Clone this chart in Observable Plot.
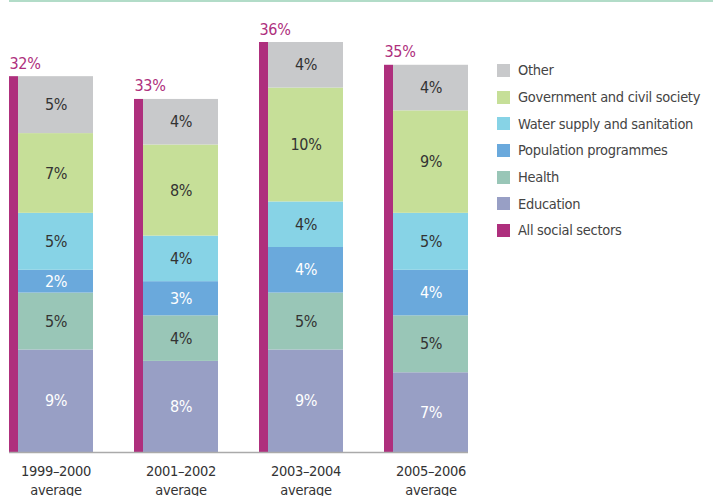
<!DOCTYPE html>
<html><head><meta charset="utf-8">
<script src="https://cdn.jsdelivr.net/npm/d3@7"></script>
<script src="https://cdn.jsdelivr.net/npm/@observablehq/plot@0.6"></script>
<style>
body{margin:0;background:#fff;}
#wrap{position:relative;width:713px;height:496px;overflow:hidden;font-family:"Liberation Sans Narrow","DejaVu Sans Condensed",sans-serif;}
#chart{position:absolute;left:0;top:0;}
#topline{position:absolute;left:9px;right:0;top:0;height:2px;background:#b2dcc8;}
#legend{position:absolute;left:497px;top:57px;}
.item{display:flex;align-items:center;height:26.7px;font-size:14.5px;letter-spacing:-0.3px;color:#444;white-space:nowrap;}
.sw{width:13px;height:13px;margin-right:8px;flex:none;}
</style></head>
<body>
<div id="wrap"><div id="chart"></div><div id="topline"></div><div id="legend"></div></div>
<script>
const periods = ["1999–2000","2001–2002","2003–2004","2005–2006"];
const sectors = ["Education","Health","Population programmes","Water supply and sanitation","Government and civil society","Other"];
const education = [9,8,9,7];
const health = [5,4,5,5];
const population = [2,3,4,4];
const water = [5,4,4,5];
const government = [7,8,10,9];
const other = [5,4,4,4];
const allSocial = [32,33,36,35];
const legendOrder = ["Other","Government and civil society","Water supply and sanitation","Population programmes","Health","Education","All social sectors"];
const colors = {
  "Education":"#989fc5",
  "Health":"#99c6b7",
  "Population programmes":"#6aa9dc",
  "Water supply and sanitation":"#87d3e6",
  "Government and civil society":"#c6df98",
  "Other":"#c8c9cb",
  "All social sectors":"#ae2f7d"
};
const whiteText = new Set(["Education","Population programmes"]);

const series = [education, health, population, water, government, other];
const rows = [];
periods.forEach((p,i)=>series.forEach((s,j)=>rows.push({period:p, sector:sectors[j], value:s[i]})));
const totals = periods.map((p,i)=>({period:p, all:allSocial[i], sum:d3.sum(series, s=>s[i])}));

const font = '"Liberation Sans Narrow","DejaVu Sans Condensed",sans-serif';
const chart = Plot.plot({
  width:713, height:496,
  marginLeft:9, marginRight:245, marginTop:42, marginBottom:44,
  style:{fontFamily:font, fontSize:"15px", background:"transparent", letterSpacing:"-0.3px"},
  x:{domain:periods, paddingInner:0.328, paddingOuter:0, axis:null},
  y:{domain:[0,36], axis:null},
  color:{domain:Object.keys(colors), range:Object.values(colors)},
  marks:[
    Plot.barY(rows, Plot.stackY({x:"period", y:"value", fill:"sector", order:sectors, insetLeft:9})),
    Plot.barY(totals, {x:"period", y:"sum", fill:colors["All social sectors"], insetRight:75}),
    Plot.text(rows, Plot.stackY({x:"period", y:"value", order:sectors, z:"sector", text:d=>d.value+"%", dx:4.5, fontSize:16,
      fill:d=>whiteText.has(d.sector)?"#ffffff":"#333333"})),
    Plot.text(totals, {x:"period", y:"sum", text:d=>d.all+"%", fill:colors["All social sectors"], textAnchor:"start", dx:-42, lineAnchor:"bottom", dy:-8, fontSize:16}),
    Plot.ruleY([0], {stroke:"#aaaaaa", strokeWidth:1.5}),
    Plot.axisX({domain:periods, label:null, tickSize:0, tickPadding:10, fontSize:14.5, dx:4.5, fill:"#333", lineHeight:1.3, tickFormat:d=>d+"\naverage"})
  ]
});
document.getElementById("chart").appendChild(chart);

const leg = document.getElementById("legend");
legendOrder.forEach(k=>{
  const it = document.createElement("div"); it.className="item";
  const sw = document.createElement("span"); sw.className="sw"; sw.style.background=colors[k];
  const t = document.createElement("span"); t.textContent=k;
  it.appendChild(sw); it.appendChild(t); leg.appendChild(it);
});
</script>
</body></html>
